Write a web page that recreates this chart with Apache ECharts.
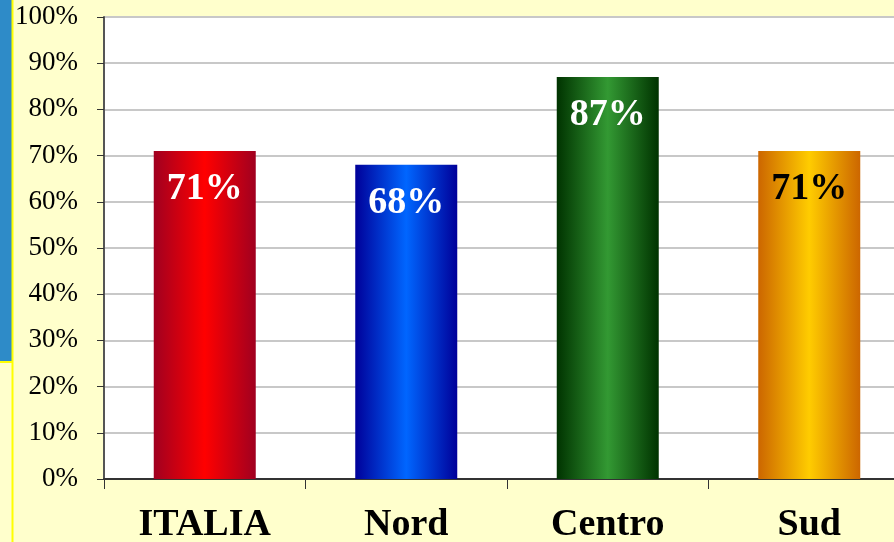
<!DOCTYPE html>
<html>
<head>
<meta charset="utf-8">
<script src="https://cdn.jsdelivr.net/npm/echarts@6/dist/echarts.min.js"></script>
<style>
  html, body { margin: 0; padding: 0; background: #FFFFCC; }
  #chart { width: 894px; height: 542px; }
</style>
</head>
<body>
<div id="chart"></div>
<script>
const categories = ["ITALIA", "Nord", "Centro", "Sud"];
const values = [71, 68, 87, 71];
const yTicks = [0, 10, 20, 30, 40, 50, 60, 70, 80, 90, 100];

// colori bordo/centro per ogni barra
const barColors = [
  ["#A00020", "#FF0000"],
  ["#000099", "#0066FF"],
  ["#003300", "#339933"],
  ["#CC6600", "#FFCC00"]
];
const labelColors = ["#fff", "#fff", "#fff", "#000"];

function grad(c) {
  return new echarts.graphic.LinearGradient(0, 0, 1, 0, [
    { offset: 0, color: c[0] },
    { offset: 0.5, color: c[1] },
    { offset: 1, color: c[0] }
  ]);
}

const chart = echarts.init(document.getElementById("chart"));
chart.setOption({
  backgroundColor: "#FFFFCC",
  animation: false,
  grid: {
    left: 104, top: 17, bottom: 63, width: 806,
    outerBoundsMode: "none",
    containLabel: false,
    show: true, backgroundColor: "#fff", borderWidth: 0
  },
  graphic: [
    { type: "rect", shape: { x: 0, y: 0, width: 12, height: 362 }, style: { fill: "#2E8BC8" } },
    { type: "line", shape: { x1: 12.5, y1: 0, x2: 12.5, y2: 542 }, style: { stroke: "#FFFF00", lineWidth: 2 } },
    { type: "line", shape: { x1: 0, y1: 362, x2: 12, y2: 362 }, style: { stroke: "#FFFF00", lineWidth: 2 } }
  ],
  xAxis: {
    type: "category",
    data: categories,
    axisLine: { lineStyle: { color: "#333", width: 2 } },
    axisTick: { show: true, length: 10, lineStyle: { color: "#333", width: 1 } },
    axisLabel: {
      margin: 27,
      fontFamily: "Liberation Serif",
      fontSize: 38,
      fontWeight: "bold",
      color: "#000"
    }
  },
  yAxis: {
    type: "value",
    min: 0, max: 100, interval: 10,
    axisLine: { show: true, lineStyle: { color: "#555", width: 2 } },
    axisTick: { show: true, length: 7, lineStyle: { color: "#333" } },
    splitLine: { lineStyle: { color: "#C8C8C8", width: 2 } },
    axisLabel: {
      margin: 26,
      fontFamily: "Liberation Serif",
      fontSize: 27,
      color: "#000",
      formatter: v => yTicks.includes(v) ? v + "%" : ""
    }
  },
  series: [{
    type: "bar",
    barWidth: 102,
    data: values.map((v, i) => ({
      value: v,
      itemStyle: { color: grad(barColors[i]) },
      label: { color: labelColors[i] }
    })),
    label: {
      show: true,
      position: "insideTop",
      distance: 19,
      fontFamily: "Liberation Serif",
      fontSize: 38,
      fontWeight: "bold",
      formatter: p => p.value + "%"
    }
  }]
});
</script>
</body>
</html>
